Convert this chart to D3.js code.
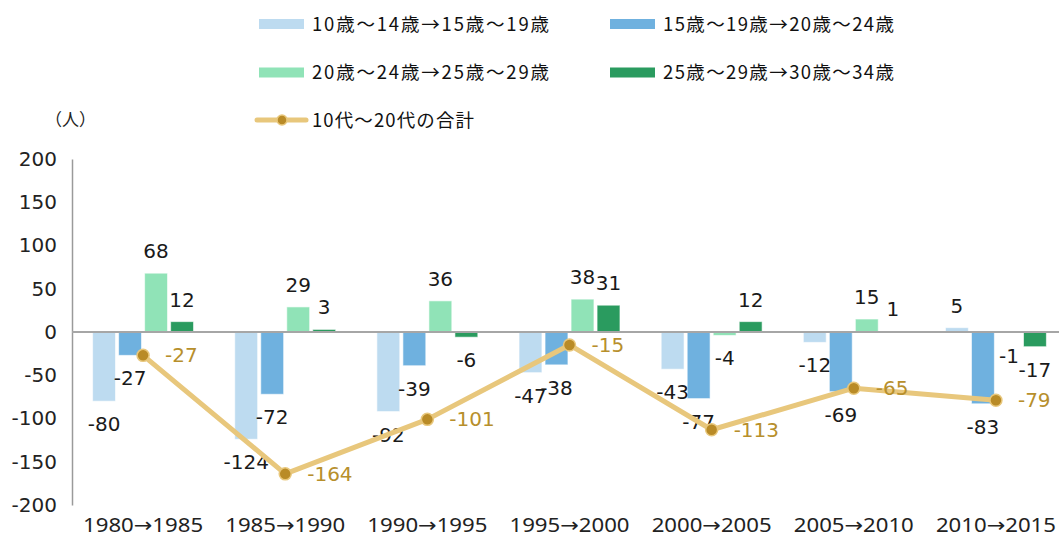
<!DOCTYPE html>
<html lang="ja">
<head>
<meta charset="utf-8">
<script src="https://cdn.jsdelivr.net/npm/d3@7"></script>
<style>
  html, body { margin: 0; padding: 0; background: #fff; }
  svg { display: block; }
</style>
</head>
<body>
<svg id="chart" width="1059" height="538"></svg>
<script>
// Periods (five-year intervals)
const periods = ["1980→1985", "1985→1990", "1990→1995", "1995→2000", "2000→2005", "2005→2010", "2010→2015"];

// Net change per cohort (persons)
const cohortA = [-80, -124, -92, -47, -43, -12, 5];   // 10歳～14歳→15歳～19歳
const cohortB = [-27, -72, -39, -38, -77, -69, -83];  // 15歳～19歳→20歳～24歳
const cohortC = [68, 29, 36, 38, -4, 15, -1];         // 20歳～24歳→25歳～29歳
const cohortD = [12, 3, -6, 31, 12, 1, -17];          // 25歳～29歳→30歳～34歳

// Total of teens and twenties
const totals = [-27, -164, -101, -15, -113, -65, -79];

const seriesNames = ["10歳～14歳→15歳～19歳", "15歳～19歳→20歳～24歳", "20歳～24歳→25歳～29歳", "25歳～29歳→30歳～34歳"];
const totalName = "10代～20代の合計";
const yTicks = [200, 150, 100, 50, 0, -50, -100, -150, -200];
const unitLabel = "（人）";

const seriesValues = [cohortA, cohortB, cohortC, cohortD];
const colors = ["#bddbf0", "#6fb1df", "#90e3b7", "#2a9b5f"];
const lineColor = "#e8c77c";
const markerColor = "#b98b27";
const totalLabelColor = "#b78f2c";

const svg = d3.select("#chart");
const numFont = "'DejaVu Sans', sans-serif";
const jpFont = "'Noto Sans CJK JP', sans-serif";

const x0 = d3.scaleBand().domain(periods).range([72, 1067]).paddingInner(0.29).paddingOuter(0.145);
const x1 = d3.scaleBand().domain(d3.range(4)).range([0, x0.bandwidth()]).paddingInner(0.12);
const y = d3.scaleLinear().domain([-200, 200]).range([505, 159]);

// Y axis
const yAxis = d3.axisLeft(y).tickValues(yTicks).tickSize(0).tickPadding(15).tickFormat(d => String(d));
const yG = svg.append("g").attr("transform", "translate(72,0)").call(yAxis);
yG.select(".domain").attr("stroke", "#9a9a9a").attr("stroke-width", 1.5);
yG.selectAll("text").attr("font-family", numFont).attr("font-size", 20).attr("fill", "#222");

// X axis labels
const xAxis = d3.axisBottom(x0).tickSize(0).tickPadding(0);
const xG = svg.append("g").attr("transform", "translate(0,525)").call(xAxis);
xG.select(".domain").remove();
xG.selectAll("text").attr("font-family", "'Noto Sans', 'DejaVu Sans', sans-serif")
  .attr("font-size", 20).attr("fill", "#222").attr("dy", "0.35em")
  .attr("textLength", 120).attr("lengthAdjust", "spacingAndGlyphs");

// Bars
const groups = svg.append("g").selectAll("g").data(periods).join("g")
  .attr("transform", d => `translate(${x0(d)},0)`);

const barData = (p, i) => seriesValues.map((vals, s) => ({ s, v: vals[i] }));

groups.each(function (p, i) {
  const g = d3.select(this);
  const data = barData(p, i);
  g.selectAll("rect").data(data).join("rect")
    .attr("x", d => x1(d.s))
    .attr("width", x1.bandwidth())
    .attr("y", d => Math.min(y(d.v), y(0)))
    .attr("height", d => Math.abs(y(d.v) - y(0)))
    .attr("fill", d => colors[d.s])
    .attr("stroke", "rgba(255,255,255,0.6)")
    .attr("stroke-width", 1);
  g.selectAll("text").data(data).join("text")
    .attr("x", d => x1(d.s) + x1.bandwidth() / 2)
    .attr("y", d => d.v >= 0 ? y(d.v) - 22 : y(d.v) + 23)
    .attr("dy", "0.35em")
    .attr("text-anchor", "middle")
    .attr("font-family", numFont).attr("font-size", 20).attr("fill", "#1a1a1a")
    .text(d => String(d.v));
});

// Zero line
svg.append("line")
  .attr("x1", 72).attr("x2", 1059)
  .attr("y1", y(0)).attr("y2", y(0))
  .attr("stroke", "#a6a6a6").attr("stroke-width", 2);

// Total line
const cx = p => x0(p) + x0.bandwidth() / 2;
const lineGen = d3.line().x((d, i) => cx(periods[i])).y(d => y(d));
svg.append("path").datum(totals)
  .attr("d", lineGen).attr("fill", "none")
  .attr("stroke", lineColor).attr("stroke-width", 5).attr("stroke-linejoin", "round");
svg.append("g").selectAll("circle").data(totals).join("circle")
  .attr("cx", (d, i) => cx(periods[i])).attr("cy", d => y(d)).attr("r", 6)
  .attr("fill", markerColor).attr("stroke", lineColor).attr("stroke-width", 1.5);
svg.append("g").selectAll("text").data(totals).join("text")
  .attr("x", (d, i) => cx(periods[i]) + 22).attr("y", d => y(d))
  .attr("dy", "0.35em")
  .attr("font-family", numFont).attr("font-size", 20).attr("fill", totalLabelColor)
  .text(d => String(d));

// Unit label
svg.append("text").attr("x", 45).attr("y", 120).attr("dy", "0.35em")
  .attr("font-family", jpFont).attr("font-size", 17).attr("fill", "#222")
  .text(unitLabel);

// Legend
const legendItems = [
  { name: seriesNames[0], color: colors[0], x: 259, y: 24, w: 237 },
  { name: seriesNames[1], color: colors[1], x: 610, y: 24, w: 231 },
  { name: seriesNames[2], color: colors[2], x: 259, y: 72.5, w: 237 },
  { name: seriesNames[3], color: colors[3], x: 610, y: 72.5, w: 231 }
];
const lg = svg.append("g");
legendItems.forEach(it => {
  lg.append("rect").attr("x", it.x).attr("y", it.y - 5).attr("width", 45).attr("height", 10).attr("fill", it.color);
  lg.append("text").attr("x", it.x + 53).attr("y", it.y).attr("dy", "0.36em")
    .attr("font-family", jpFont).attr("font-size", 18.5).attr("fill", "#111")
    .attr("textLength", it.w).attr("lengthAdjust", "spacing")
    .text(it.name);
});
lg.append("line").attr("x1", 257).attr("x2", 306).attr("y1", 120).attr("y2", 120)
  .attr("stroke", lineColor).attr("stroke-width", 5).attr("stroke-linecap", "round");
lg.append("circle").attr("cx", 282).attr("cy", 120).attr("r", 5)
  .attr("fill", markerColor).attr("stroke", lineColor).attr("stroke-width", 1.5);
lg.append("text").attr("x", 312).attr("y", 120).attr("dy", "0.36em")
  .attr("font-family", jpFont).attr("font-size", 18.5).attr("fill", "#111")
  .attr("textLength", 162).attr("lengthAdjust", "spacing")
  .text(totalName);
</script>
</body>
</html>
